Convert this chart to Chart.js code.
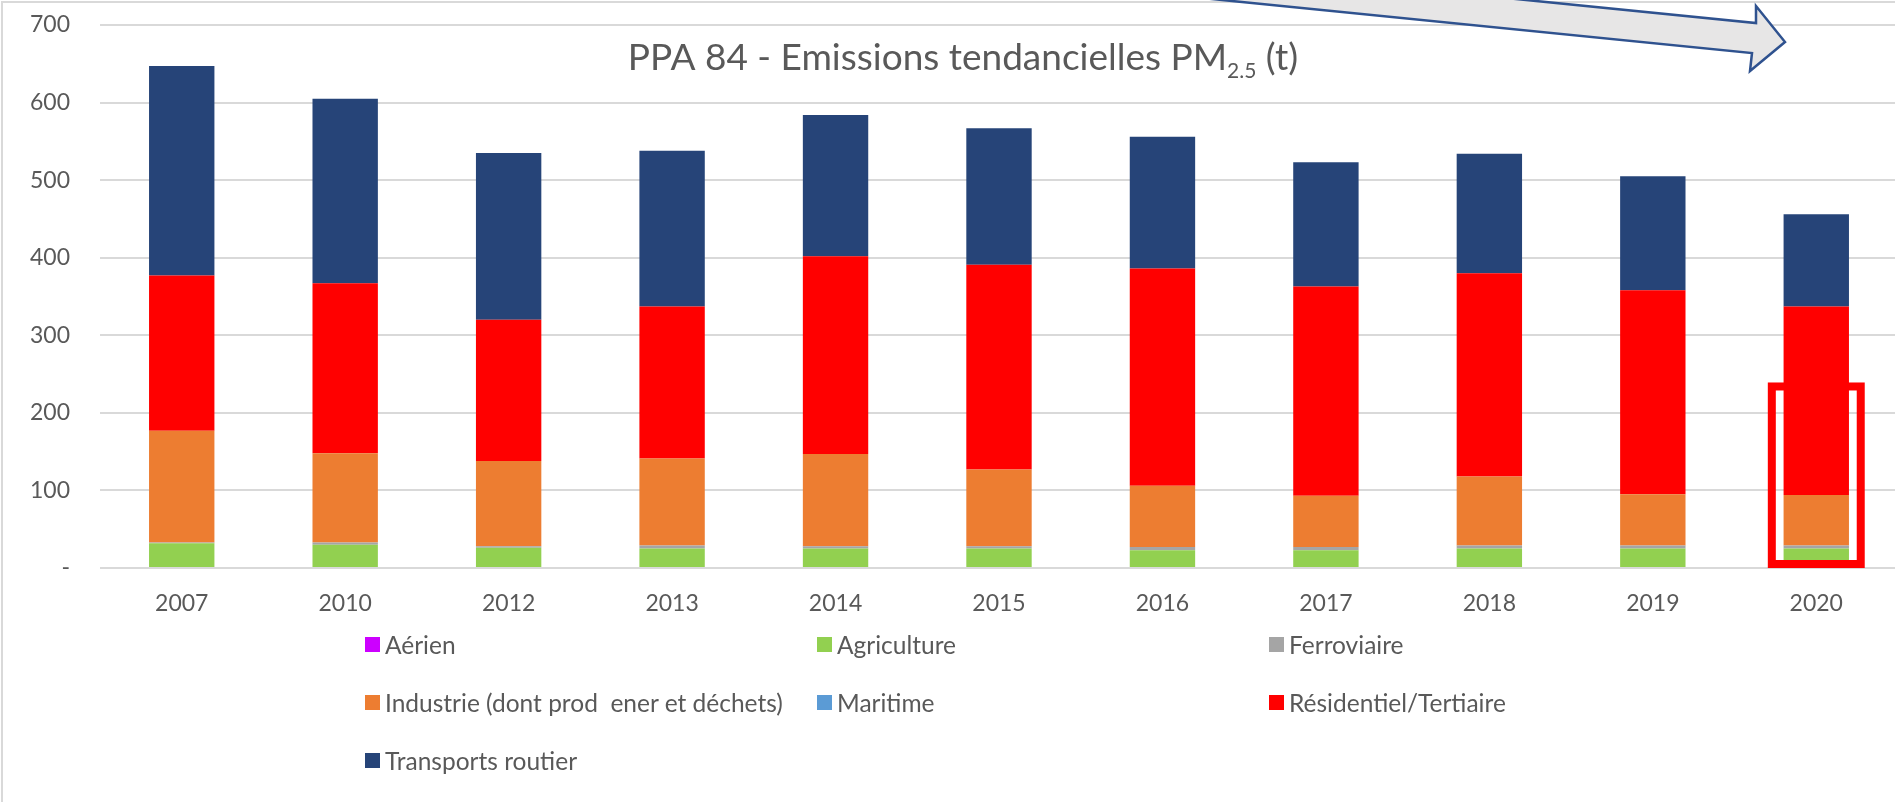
<!DOCTYPE html>
<html>
<head>
<meta charset="utf-8">
<script src="https://cdn.jsdelivr.net/npm/chart.js@4/dist/chart.umd.min.js"></script>
<style>
  html, body { margin: 0; padding: 0; background: #fff; overflow: hidden; }
  #frame { position: absolute; left: 1px; top: 1px; width: 1920px; height: 820px;
           border-left: 2px solid #d9d9d9; border-top: 2px solid #d9d9d9; }
  #wrap { position: absolute; left: 0; top: 0; width: 1899px; height: 802px; }
  #legend { position: absolute; left: 0; top: 0; font-family: Lato, sans-serif; font-size: 24.5px; color: #595959; }
  .item { position: absolute; white-space: pre; display: flex; align-items: center; height: 30px; }
  .box { width: 15px; height: 15px; margin-right: 5px; }
</style>
</head>
<body>
<div id="frame"></div>
<div id="wrap"><canvas id="Chart"></canvas></div>
<div id="legend"></div>
<script>
// data
const years = ['2007', '2010', '2012', '2013', '2014', '2015', '2016', '2017', '2018', '2019', '2020'];
const aerien      = [0, 0, 0, 0, 0, 0, 0, 0, 0, 0, 0];
const agriculture = [32, 30, 26, 25, 25, 25, 23, 23, 25, 25, 25];
const ferroviaire = [1, 3, 2, 4, 3, 3, 4, 4, 4, 4, 4];
const industrie   = [144, 115, 110, 112, 119, 99, 79, 66, 89, 66, 65];
const maritime    = [0, 0, 0, 0, 0, 0, 0, 0, 0, 0, 0];
const residentiel = [200, 219, 182, 196, 255, 264, 280, 270, 262, 263, 243];
const transports  = [270, 238, 215, 201, 182, 176, 170, 160, 154, 147, 119];
const yTicks = [0, 100, 200, 300, 400, 500, 600, 700];

const seriesNames = ['Aérien', 'Agriculture', 'Ferroviaire', 'Industrie (dont prod  ener et déchets)',
                     'Maritime', 'Résidentiel/Tertiaire', 'Transports routier'];
const seriesColors = ['#cc00ff', '#92d050', '#a5a5a5', '#ed7d31', '#5b9bd5', '#ff0000', '#264478'];
const seriesData = [aerien, agriculture, ferroviaire, industrie, maritime, residentiel, transports];

const textColor = '#595959';

// title with subscript
const titlePlugin = {
  id: 'titre',
  afterDraw(chart) {
    const ctx = chart.ctx;
    const a = 'PPA 84 - Emissions tendancielles PM', b = '2.5', c = ' (t)';
    ctx.save();
    ctx.fillStyle = textColor;
    ctx.textBaseline = 'alphabetic';
    ctx.font = '37px Lato';
    const w1 = ctx.measureText(a).width, w3 = ctx.measureText(c).width;
    ctx.font = '21px Lato';
    const w2 = ctx.measureText(b).width;
    let x = 963 - (w1 + w2 + w3) / 2;
    ctx.font = '37px Lato'; ctx.fillText(a, x, 70); x += w1;
    ctx.font = '21px Lato'; ctx.fillText(b, x, 78); x += w2;
    ctx.font = '37px Lato'; ctx.fillText(c, x, 70);
    ctx.restore();
  }
};

// the grey arrow and the red box around 2020
const notesPlugin = {
  id: 'notes',
  afterDraw(chart) {
    const ctx = chart.ctx;
    const xs = chart.scales.x, ys = chart.scales.y;
    ctx.save();
    ctx.beginPath();
    ctx.moveTo(1100, -42.6);
    ctx.lineTo(1756, 23);
    ctx.lineTo(1756, 6);
    ctx.lineTo(1785, 42);
    ctx.lineTo(1750, 71);
    ctx.lineTo(1752, 53);
    ctx.lineTo(1100, -12.2);
    ctx.closePath();
    ctx.fillStyle = '#e7e6e6';
    ctx.fill();
    ctx.strokeStyle = '#2f528f';
    ctx.lineWidth = 2.5;
    ctx.lineJoin = 'miter';
    ctx.stroke();

    const cx = xs.getPixelForValue(10);
    const half = 0.272 * (xs.getPixelForValue(1) - xs.getPixelForValue(0));
    const top = ys.getPixelForValue(234), bottom = ys.getPixelForValue(0) - 4;
    ctx.strokeStyle = '#ff0000';
    ctx.lineWidth = 8;
    ctx.strokeRect(cx - half, top, 2 * half, bottom - top);
    ctx.restore();
  }
};

const data = {
  labels: years,
  datasets: seriesNames.map((name, i) => ({
    label: name,
    data: seriesData[i],
    backgroundColor: seriesColors[i],
    borderWidth: 0,
    categoryPercentage: 1,
    barPercentage: 0.4
  }))
};

const config = {
  type: 'bar',
  data,
  options: {
    responsive: true,
    maintainAspectRatio: false,
    animation: false,
    layout: { padding: { left: 0, right: 1, top: 25, bottom: 184 } },
    scales: {
      x: {
        stacked: true,
        afterFit(scale) { scale.height = 50; scale.paddingLeft = 0; scale.paddingRight = 0; },
        grid: { display: false, drawTicks: false },
        border: { display: false },
        ticks: { color: textColor, font: { family: 'Lato', size: 23 }, padding: 22 }
      },
      y: {
        stacked: true,
        min: 0,
        max: 700,
        afterFit(scale) { scale.width = 100; scale.paddingTop = 0; scale.paddingBottom = 0; },
        afterBuildTicks(scale) { scale.ticks = yTicks.map(v => ({ value: v })); },
        grid: { color: '#d9d9d9', lineWidth: 2, drawTicks: false },
        border: { display: false },
        ticks: {
          color: textColor,
          font: { family: 'Lato', size: 23 },
          padding: 30,
          callback: v => v === 0 ? '-' : String(v)
        }
      }
    },
    plugins: {
      legend: { display: false },
      tooltip: { enabled: false }
    }
  },
  plugins: [titlePlugin, notesPlugin]
};

const myChart = new Chart(document.getElementById('Chart'), config);

// legend in three columns, like the original
const legend = document.getElementById('legend');
seriesNames.forEach((name, i) => {
  const col = i % 3, row = Math.floor(i / 3);
  const item = document.createElement('div');
  item.className = 'item';
  item.style.left = (365 + col * 452) + 'px';
  item.style.top = (644 + row * 58 - 15) + 'px';
  item.innerHTML = '<span class="box" style="background:' + seriesColors[i] + '"></span><span></span>';
  item.lastChild.textContent = name;
  legend.appendChild(item);
});
</script>
</body>
</html>
